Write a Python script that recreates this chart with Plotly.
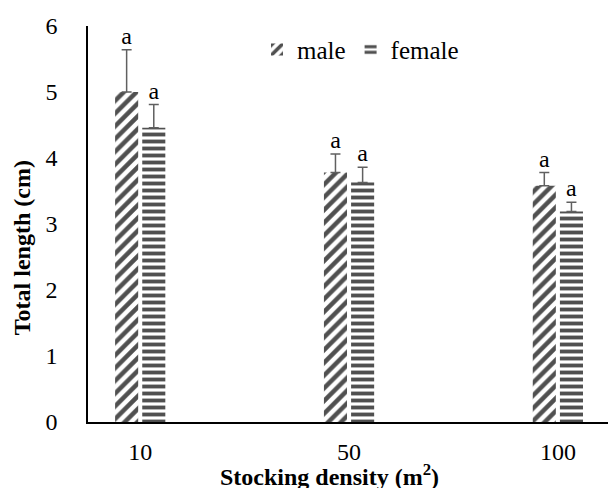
import plotly.graph_objects as go

categories = ["10", "50", "100"]
male_mean = [5.00, 3.78, 3.58]
male_err = [0.64, 0.28, 0.20]
female_mean = [4.46, 3.63, 3.19]
female_err = [0.35, 0.23, 0.14]
male_letters = ["a", "a", "a"]
female_letters = ["a", "a", "a"]

FONT = "Liberation Serif"
GREY = "#505050"
xpos = list(range(len(categories)))
BARGAP = 0.74
slot = (1 - BARGAP) / 2

fig = go.Figure()
fig.add_trace(go.Bar(
    x=xpos, y=male_mean, name="male",
    marker=dict(color="white", line=dict(width=0),
                pattern=dict(shape="/", fgcolor=GREY, bgcolor="white", fgopacity=1,
                             size=9, solidity=0.5)),
    error_y=dict(type="data", array=male_err, arrayminus=[0]*3, symmetric=False,
                 color="#606060", thickness=1.5, width=5),
))
fig.add_trace(go.Bar(
    x=xpos, y=female_mean, name="female",
    marker=dict(color="white", line=dict(width=0),
                pattern=dict(shape="-", fgcolor=GREY, bgcolor="white", fgopacity=1,
                             size=7, solidity=0.55)),
    error_y=dict(type="data", array=female_err, arrayminus=[0]*3, symmetric=False,
                 color="#606060", thickness=1.5, width=5),
))
fig.add_trace(go.Scatter(
    x=[p - slot / 2 for p in xpos], y=[m + e for m, e in zip(male_mean, male_err)],
    mode="text", text=male_letters, textposition="top center",
    textfont=dict(family=FONT, size=24, color="black"), showlegend=False, hoverinfo="skip"))
fig.add_trace(go.Scatter(
    x=[p + slot / 2 for p in xpos], y=[m + e for m, e in zip(female_mean, female_err)],
    mode="text", text=female_letters, textposition="top center",
    textfont=dict(family=FONT, size=24, color="black"), showlegend=False, hoverinfo="skip"))

fig.update_layout(
    width=608, height=488,
    margin=dict(l=88, r=0, t=26, b=66),
    paper_bgcolor="white", plot_bgcolor="white",
    barmode="group", bargap=BARGAP, bargroupgap=0.15,
    font=dict(family=FONT, size=24, color="black"),
    legend=dict(orientation="h", x=0.325, y=0.94, xanchor="left", yanchor="middle",
                bgcolor="rgba(0,0,0,0)", font=dict(family=FONT, size=25, color="black"),
                itemwidth=30, traceorder="normal"),
    xaxis=dict(range=[-0.25, 2.24], tickmode="array", tickvals=xpos, ticktext=categories,
               showline=True, linecolor="black", linewidth=1.5, showgrid=False,
               zeroline=False, ticks="", ticklabelstandoff=7,
               tickfont=dict(family=FONT, size=24)),
    yaxis=dict(range=[0, 6], dtick=1, showline=True, linecolor="black", linewidth=1.5,
               showgrid=False, zeroline=False, ticks="", ticklabelstandoff=24,
               tickfont=dict(family=FONT, size=24)),
    annotations=[
        dict(text="<b>Stocking density (m<sup>2</sup>)</b>", xref="paper", yref="paper",
             x=0.465, y=-0.134, xanchor="center", yanchor="middle", showarrow=False,
             font=dict(family=FONT, size=24)),
        dict(text="<b>Total length (cm)</b>", xref="paper", yref="paper",
             x=-0.128, y=0.44, xanchor="center", yanchor="middle", showarrow=False,
             textangle=-90, font=dict(family=FONT, size=24)),
    ],
)

fig.write_html("out.html")
